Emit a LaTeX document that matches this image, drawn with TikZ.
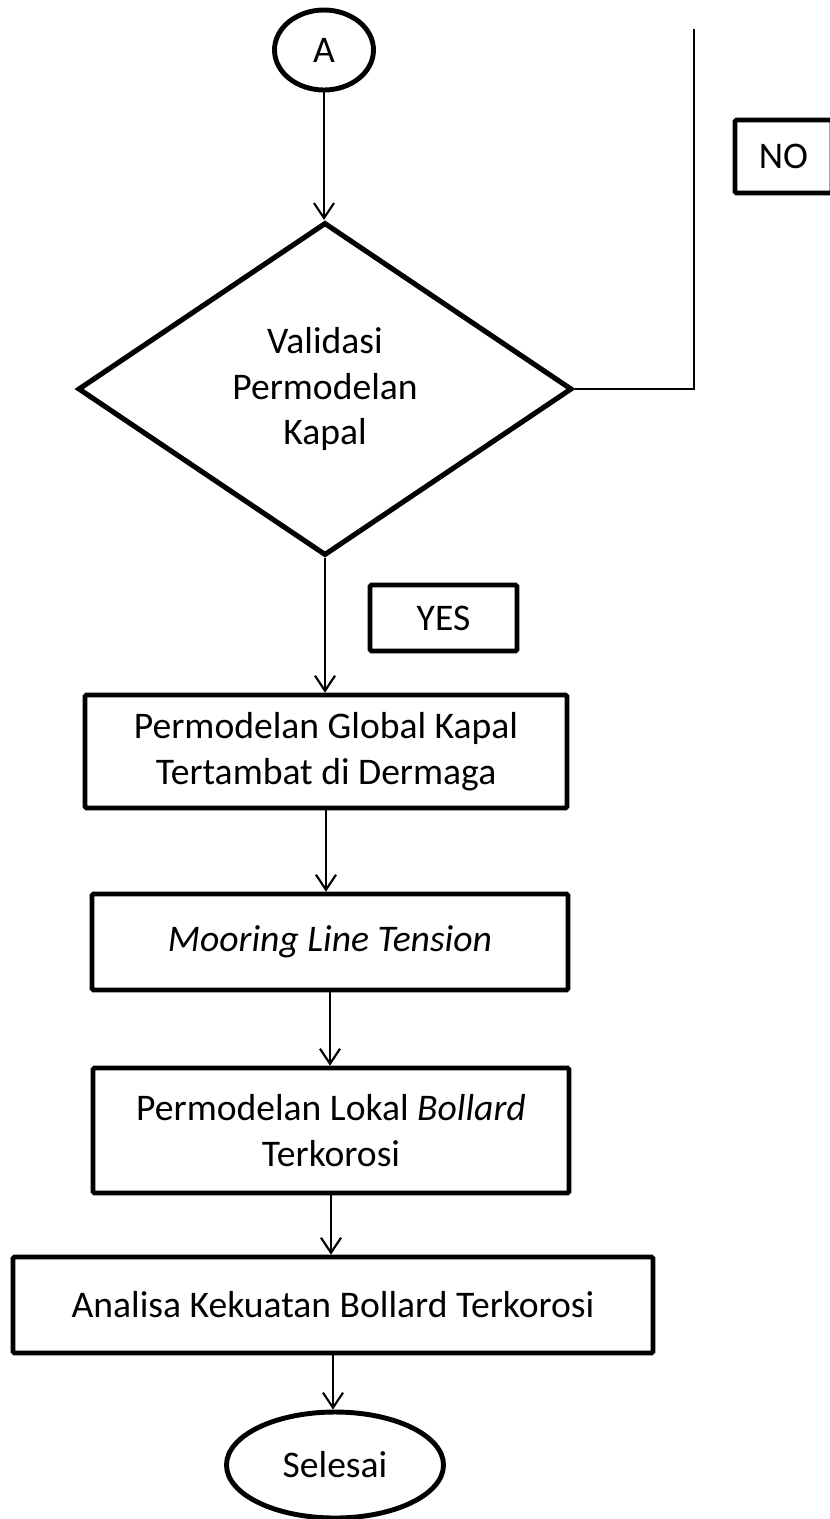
\documentclass[tikz,border=0pt]{standalone}
\usepackage{fontspec}
\setmainfont{Carlito}
\usetikzlibrary{shapes.geometric,arrows.meta,positioning}

\begin{document}
\begin{tikzpicture}[
    every node/.style={font=\fontsize{21.4}{26}\selectfont, align=center, inner sep=0pt},
    proses/.style={draw, line width=2.7pt, rectangle, rounded corners=0.8pt},
    tanda/.style={draw, line width=2.7pt, rectangle, rounded corners=0.8pt},
    keputusan/.style={draw, line width=2.9pt, diamond, aspect=1.48, line join=miter},
    terminal/.style={draw, line width=2.8pt, ellipse},
    alur/.style={line width=1.2pt, -{Straight Barb[length=0.3cm, width=0.4cm]}}
]
    \useasboundingbox (0,0) rectangle (16.6,-30.38);
    \clip (0,0) rectangle (16.6,-30.38);

    % Mulai
    \node[terminal, minimum width=1.98cm, minimum height=1.6cm] (A) at (6.48,-1.0) {A};

    % Keputusan
    \node[keputusan, minimum width=9.88cm, minimum height=6.66cm] (validasi) at (6.5,-7.78) {Validasi\\Permodelan\\Kapal};
    \node[tanda, minimum width=1.94cm, minimum height=1.46cm] (no) at (15.67,-3.13) {NO};
    \node[tanda, minimum width=2.94cm, minimum height=1.32cm] (yes) at (8.87,-12.36) {YES};

    % Proses
    \node[proses, minimum width=9.64cm, minimum height=2.26cm] (global) at (6.52,-15.03) {Permodelan Global Kapal\\Tertambat di Dermaga};
    \node[proses, minimum width=9.52cm, minimum height=1.92cm] (tension) at (6.6,-18.84) {\textit{Mooring Line Tension}};
    \node[proses, minimum width=9.52cm, minimum height=2.5cm] (lokal) at (6.62,-22.61) {Permodelan Lokal \textit{Bollard}\\Terkorosi};
    \node[proses, minimum width=12.8cm, minimum height=1.92cm] (analisa) at (6.66,-26.1) {Analisa Kekuatan Bollard Terkorosi};

    % Selesai
    \node[terminal, minimum width=4.34cm, minimum height=2.12cm] (selesai) at (6.7,-29.3) {Selesai};

    % Alur
    \draw[alur] (A.south) -- (A.south |- validasi.north);
    \draw[alur] (validasi.south) -- (validasi.south |- global.north);
    \draw[alur] (global.south) -- (global.south |- tension.north);
    \draw[alur] (tension.south) -- (tension.south |- lokal.north);
    \draw[alur] (lokal.south) -- (lokal.south |- analisa.north);
    \draw[alur] (analisa.south) -- (analisa.south |- selesai.north);

    % Jalur NO
    \coordinate (atas) at (13.88,-0.58);
    \draw[line width=0.9pt] (validasi.east) -- (validasi.east -| atas) -- (atas);
\end{tikzpicture}
\end{document}
